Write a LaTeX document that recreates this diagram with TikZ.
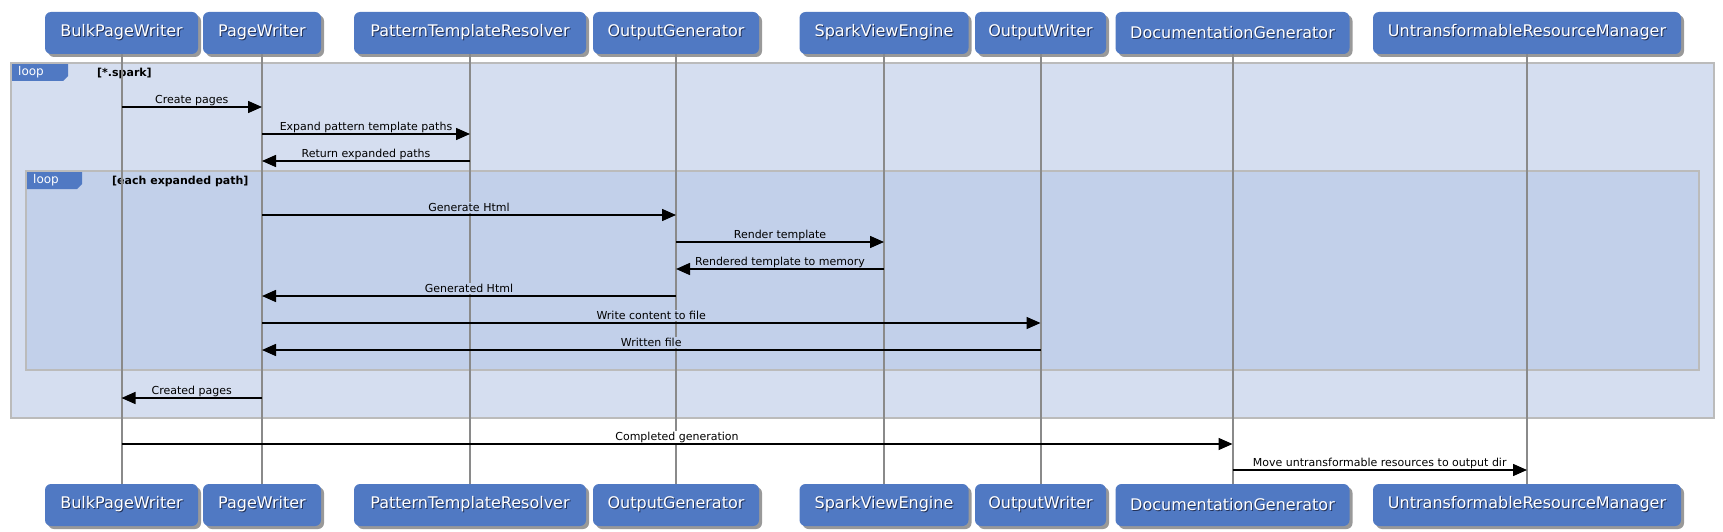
\documentclass[tikz,border=0pt]{standalone}
\usepackage{fontspec}
\setmainfont{DejaVu Sans}
\usetikzlibrary{arrows.meta,shadows,calc}
\definecolor{boxc}{HTML}{5079C3}
\definecolor{outerc}{HTML}{D5DEF0}
\definecolor{innerc}{HTML}{C2D0EA}
\definecolor{framec}{HTML}{BBBBBB}
\definecolor{lifec}{HTML}{8A8A8A}
\definecolor{txtsh}{HTML}{22325A}
\newcommand\boxtxt[1]{\makebox[0pt][l]{\hspace{1pt}\raisebox{-1pt}{\textcolor{txtsh}{#1}}}\textcolor{white}{#1}}
% \seqmsg{from node}{to node}{y}{text}{label fill}{label name}
\newcommand\seqmsg[6]{%
  \path (#1 |- 0,#3) -- node[lbl, fill=#5] (#6) {#4} (#2 |- 0,#3);
  \draw[msg] (#1 |- 0,#3) -- (#2 |- 0,#3);}
\begin{document}
\begin{tikzpicture}[x=1pt,y=-1pt,
  pbox/.style={fill=boxc, rounded corners=6pt, minimum height=42pt, inner sep=0pt,
    font=\fontsize{16}{19}\selectfont,
    drop shadow={shadow xshift=3pt, shadow yshift=-3pt, fill=black, opacity=0.4}},
  life/.style={draw=lifec, line width=2pt},
  msg/.style={draw=black, line width=1.5pt, -{Triangle[length=14pt,width=12pt]}},
  lbl/.style={font=\fontsize{11}{13}\selectfont, inner xsep=1pt, inner ysep=1pt, anchor=base, yshift=3.5pt},
  frm/.style={draw=framec, line width=2pt},
  tabtxt/.style={anchor=west, text=white, inner sep=0pt, font=\fontsize{12}{14}\selectfont},
  frmlbl/.style={anchor=west, inner sep=0pt, font=\bfseries\fontsize{11}{13}\selectfont}]
\useasboundingbox (0,0) rectangle (1723,532);
\fill[white] (0,0) rectangle (1723,532);
% outer loop
\path[frm, fill=outerc] (11,63) rectangle (1714,418);
\fill[boxc] (11,63) -- (68,63) -- (68,76) -- (63,81) -- (11,81) -- cycle;
\draw[frm] (11,63) rectangle (1714,418);
\node[tabtxt] (tab1) at (18,72.5) {loop};
\node[frmlbl] (f1) at (97,73) {[*.spark]};
% inner loop
\path[frm, fill=innerc] (26,171) rectangle (1699,370);
\fill[boxc] (26,171) -- (82,171) -- (82,184) -- (77,189) -- (26,189) -- cycle;
\draw[frm] (26,171) rectangle (1699,370);
\node[tabtxt] (tab2) at (33,180.5) {loop};
\node[frmlbl] (f2) at (112,181) {[each expanded path]};
% participants
\node[pbox, minimum width=153pt] (bpwT) at (121.5,33) {\boxtxt{BulkPageWriter}};
\node[pbox, minimum width=118pt] (pwT) at (262,33) {\boxtxt{PageWriter}};
\node[pbox, minimum width=232pt] (ptrT) at (470,33) {\boxtxt{PatternTemplateResolver}};
\node[pbox, minimum width=166pt] (ogT) at (676,33) {\boxtxt{OutputGenerator}};
\node[pbox, minimum width=169pt] (sveT) at (884,33) {\boxtxt{SparkViewEngine}};
\node[pbox, minimum width=131pt] (owT) at (1040.5,33) {\boxtxt{OutputWriter}};
\node[pbox, minimum width=234pt] (dgT) at (1232.5,33) {\boxtxt{DocumentationGenerator}};
\node[pbox, minimum width=308pt] (urmT) at (1527,33) {\boxtxt{UntransformableResourceManager}};
\node[pbox, minimum width=153pt] (bpwB) at (121.5,505) {\boxtxt{BulkPageWriter}};
\node[pbox, minimum width=118pt] (pwB) at (262,505) {\boxtxt{PageWriter}};
\node[pbox, minimum width=232pt] (ptrB) at (470,505) {\boxtxt{PatternTemplateResolver}};
\node[pbox, minimum width=166pt] (ogB) at (676,505) {\boxtxt{OutputGenerator}};
\node[pbox, minimum width=169pt] (sveB) at (884,505) {\boxtxt{SparkViewEngine}};
\node[pbox, minimum width=131pt] (owB) at (1040.5,505) {\boxtxt{OutputWriter}};
\node[pbox, minimum width=234pt] (dgB) at (1232.5,505) {\boxtxt{DocumentationGenerator}};
\node[pbox, minimum width=308pt] (urmB) at (1527,505) {\boxtxt{UntransformableResourceManager}};
% lifelines
\foreach \p in {bpw,pw,ptr,og,sve,ow,dg,urm}{
  \draw[life] (\p T.south) -- (\p B.north);
}
% messages
\seqmsg{bpwT}{pwT}{107}{Create pages}{outerc}{m1}
\seqmsg{pwT}{ptrT}{134}{Expand pattern template paths}{outerc}{m2}
\seqmsg{ptrT}{pwT}{161}{Return expanded paths}{outerc}{m3}
\seqmsg{pwT}{ogT}{215}{Generate Html}{innerc}{m4}
\seqmsg{ogT}{sveT}{242}{Render template}{innerc}{m5}
\seqmsg{sveT}{ogT}{269}{Rendered template to memory}{innerc}{m6}
\seqmsg{ogT}{pwT}{296}{Generated Html}{innerc}{m7}
\seqmsg{pwT}{owT}{323}{Write content to file}{innerc}{m8}
\seqmsg{owT}{pwT}{350}{Written file}{innerc}{m9}
\seqmsg{pwT}{bpwT}{398}{Created pages}{outerc}{m10}
\seqmsg{bpwT}{dgT}{444}{Completed generation}{white}{m11}
\seqmsg{dgT}{urmT}{470}{Move untransformable resources to output dir}{white}{m12}
\end{tikzpicture}
\end{document}
